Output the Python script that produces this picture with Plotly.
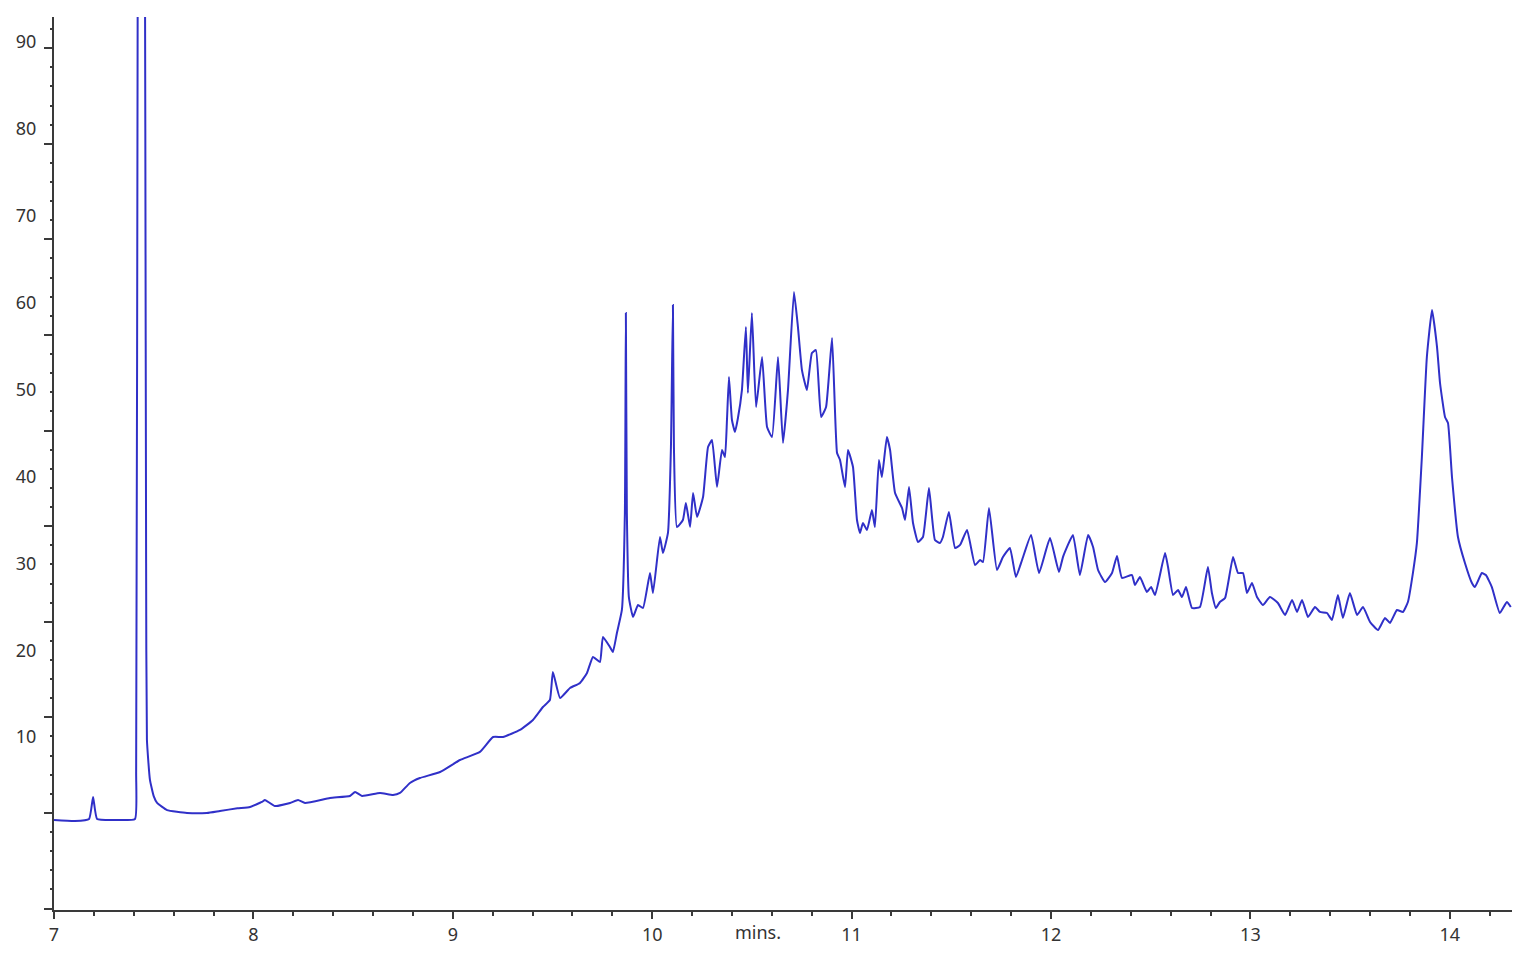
import plotly.graph_objects as go

# retention time (min) and detector response
minutes = [
    7.000, 7.105, 7.176, 7.196, 7.216, 7.306, 7.406, 7.412, 7.420, 7.440,
    7.458, 7.462, 7.466, 7.481, 7.500, 7.517, 7.567, 7.667, 7.767, 7.832,
    7.920, 7.983, 8.043, 8.058, 8.108, 8.184, 8.224, 8.259, 8.384, 8.484,
    8.510, 8.545, 8.635, 8.700, 8.735, 8.785, 8.835, 8.936, 9.036, 9.136,
    9.202, 9.252, 9.337, 9.402, 9.452, 9.487, 9.502, 9.538, 9.588, 9.638,
    9.673, 9.703, 9.738, 9.753, 9.788, 9.803, 9.823, 9.848, 9.863, 9.868,
    9.873, 9.883, 9.904, 9.929, 9.954, 9.989, 10.004, 10.039, 10.054, 10.079,
    10.094, 10.104, 10.109, 10.124, 10.154, 10.169, 10.190, 10.205, 10.225, 10.255,
    10.280, 10.300, 10.325, 10.350, 10.365, 10.375, 10.385, 10.400, 10.415, 10.430,
    10.450, 10.470, 10.480, 10.500, 10.521, 10.551, 10.576, 10.601, 10.631, 10.656,
    10.681, 10.711, 10.731, 10.751, 10.776, 10.801, 10.821, 10.847, 10.872, 10.902,
    10.927, 10.942, 10.967, 10.982, 11.007, 11.027, 11.042, 11.057, 11.077, 11.102,
    11.117, 11.137, 11.152, 11.177, 11.193, 11.218, 11.253, 11.268, 11.288, 11.308,
    11.333, 11.358, 11.388, 11.418, 11.443, 11.458, 11.488, 11.519, 11.544, 11.579,
    11.619, 11.644, 11.659, 11.689, 11.729, 11.759, 11.794, 11.824, 11.855, 11.900,
    11.940, 11.995, 12.040, 12.060, 12.110, 12.145, 12.186, 12.211, 12.236, 12.271,
    12.306, 12.331, 12.356, 12.406, 12.421, 12.446, 12.481, 12.502, 12.522, 12.572,
    12.587, 12.612, 12.637, 12.657, 12.677, 12.707, 12.747, 12.787, 12.807, 12.827,
    12.847, 12.873, 12.913, 12.938, 12.963, 12.983, 13.008, 13.033, 13.063, 13.098,
    13.138, 13.174, 13.209, 13.234, 13.259, 13.289, 13.324, 13.349, 13.384, 13.409,
    13.439, 13.464, 13.499, 13.535, 13.565, 13.600, 13.640, 13.675, 13.700, 13.735,
    13.765, 13.790, 13.815, 13.835, 13.860, 13.885, 13.911, 13.936, 13.951, 13.976,
    13.991, 14.011, 14.041, 14.076, 14.111, 14.126, 14.161, 14.181, 14.211, 14.251,
    14.286, 14.306,
]
intensity = [
    0.46, 0.35, 0.58, 3.11, 0.58, 0.46, 0.58, 6.0, 100.0, 250.0,
    80.0, 30.0, 9.7, 5.1, 3.2, 2.42, 1.6, 1.27, 1.27, 1.5,
    1.8, 1.96, 2.53, 2.76, 2.07, 2.42, 2.76, 2.42, 2.99, 3.22,
    3.68, 3.22, 3.57, 3.34, 3.57, 4.72, 5.29, 5.98, 7.36, 8.29,
    10.01, 10.01, 10.82, 11.97, 13.46, 14.27, 17.49, 14.50, 15.65, 16.23,
    17.38, 19.22, 18.64, 21.52, 20.37, 19.79, 21.98, 24.63, 35.79, 58.80,
    35.79, 26.12, 23.82, 25.20, 24.86, 28.88, 26.58, 33.03, 31.18, 33.49,
    43.38, 59.72, 43.38, 34.18, 34.98, 36.94, 34.18, 38.09, 35.33, 37.63,
    43.38, 44.19, 38.78, 43.04, 42.23, 46.49, 51.44, 46.49, 45.11, 46.72,
    49.94, 57.19, 49.60, 58.80, 47.99, 53.74, 45.68, 44.53, 53.74, 43.84,
    49.94, 61.22, 57.19, 52.24, 49.94, 54.20, 54.54, 46.84, 47.99, 55.93,
    42.69, 41.89, 38.78, 43.04, 41.08, 34.98, 33.49, 34.64, 33.83, 36.13,
    34.18, 41.89, 39.93, 44.53, 43.04, 38.09, 36.36, 34.98, 38.78, 34.64,
    32.45, 33.03, 38.66, 32.68, 32.34, 33.03, 35.90, 31.76, 32.11, 33.83,
    29.80, 30.38, 30.15, 36.36, 29.23, 30.72, 31.76, 28.42, 30.38, 33.26,
    28.88, 32.91, 29.00, 30.72, 33.26, 28.65, 33.26, 31.88, 29.23, 27.85,
    28.88, 30.84, 28.31, 28.65, 27.50, 28.42, 26.70, 27.27, 26.35, 31.18,
    29.57, 26.35, 26.93, 26.12, 27.27, 24.86, 24.97, 29.57, 26.58, 24.86,
    25.55, 26.01, 30.72, 28.88, 28.88, 26.58, 27.73, 26.12, 25.20, 26.12,
    25.43, 24.05, 25.78, 24.40, 25.78, 23.82, 24.97, 24.40, 24.28, 23.48,
    26.35, 23.71, 26.58, 24.05, 24.97, 23.25, 22.32, 23.71, 23.13, 24.63,
    24.40, 25.55, 28.88, 32.34, 42.23, 53.74, 59.15, 54.89, 50.75, 46.84,
    46.14, 39.93, 33.03, 30.03, 27.73, 27.27, 28.88, 28.65, 27.27, 24.28,
    25.55, 24.97,
]

x_ticks = [7, 8, 9, 10, 11, 12, 13, 14]
y_ticks = [10, 20, 30, 40, 50, 60, 70, 80, 90]

AXIS_COLOR = "#3a3a3a"
TEXT_COLOR = "#333333"
LINE_COLOR = "#3030c8"
FONT = "Noto Sans"

fig = go.Figure()

fig.add_trace(go.Scatter(
    x=minutes,
    y=intensity,
    mode="lines",
    line=dict(color=LINE_COLOR, width=2, shape="spline", smoothing=0.4),
    showlegend=False,
    hoverinfo="x+y",
))

# empty trace so the tick-mark axis gets drawn
fig.add_trace(go.Scatter(x=[], y=[], yaxis="y2", showlegend=False))

# page body adds an 8px margin, so the figure is a bit smaller than the window
fig.update_layout(
    width=1514,
    height=942,
    paper_bgcolor="white",
    plot_bgcolor="white",
    margin=dict(l=46, r=10, t=9, b=40, autoexpand=False),
    font=dict(family=FONT, size=18, color=TEXT_COLOR),
    xaxis=dict(
        range=[7, 14.312],
        tickmode="array",
        tickvals=x_ticks,
        ticktext=[str(v) for v in x_ticks],
        ticks="outside",
        ticklen=7,
        tickwidth=2,
        tickcolor=AXIS_COLOR,
        minor=dict(dtick=0.2, ticks="outside", ticklen=4,
                   tickwidth=2, tickcolor=AXIS_COLOR),
        showline=True,
        linecolor=AXIS_COLOR,
        linewidth=2,
        showgrid=False,
        zeroline=False,
        automargin=False,
        ticklabelstandoff=0,
    ),
    yaxis=dict(
        range=[-9.90, 92.87],
        tickmode="array",
        tickvals=y_ticks,
        ticktext=[str(v) for v in y_ticks],
        ticks="outside",
        ticklen=12,
        tickcolor="rgba(0,0,0,0)",
        showline=True,
        linecolor=AXIS_COLOR,
        linewidth=2,
        showgrid=False,
        zeroline=False,
        automargin=False,
    ),
    # the printed tick marks do not sit on the label positions
    yaxis2=dict(
        overlaying="y",
        anchor="x",
        side="left",
        range=[-10.15, 83.26],
        tick0=0,
        dtick=10,
        ticks="outside",
        ticklen=9,
        tickwidth=2,
        tickcolor=AXIS_COLOR,
        minor=dict(dtick=2, ticks="outside", ticklen=3,
                   tickwidth=2, tickcolor=AXIS_COLOR),
        showticklabels=False,
        showline=False,
        showgrid=False,
        zeroline=False,
        automargin=False,
    ),
)

fig.add_annotation(
    x=10.53, y=-0.025, xref="x", yref="paper",
    text="mins.", showarrow=False,
    yanchor="middle",
    font=dict(family=FONT, size=18, color=TEXT_COLOR),
)

fig.write_html("out.html")
